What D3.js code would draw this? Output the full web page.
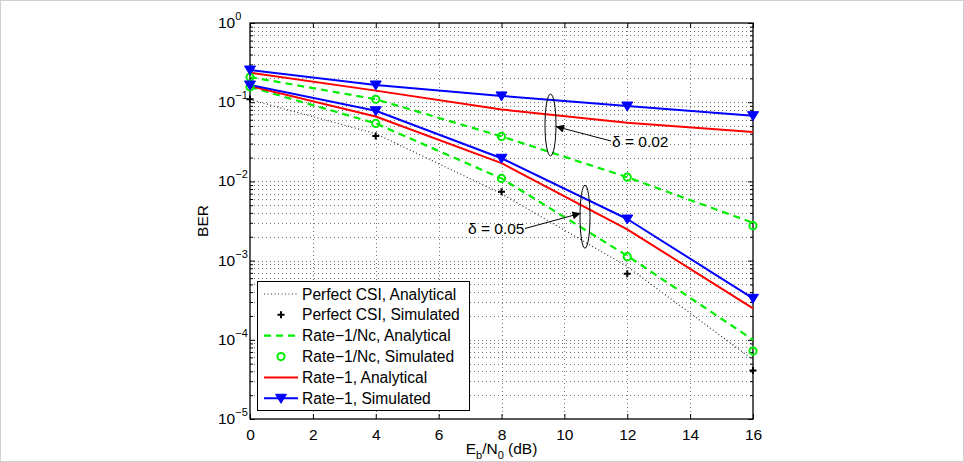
<!DOCTYPE html>
<html><head><meta charset="utf-8">
<script src="https://cdn.jsdelivr.net/npm/d3@7"></script>
<style>
html,body{margin:0;padding:0;background:#fff;}
svg{display:block;font-family:"Liberation Sans",Arial,Helvetica,sans-serif;}
</style></head>
<body><svg id="chart" width="964" height="462"></svg>
<script>
// ---- data ----
const snr = [0, 4, 8, 12, 16];
const perfectAnalytical = [0.108, 0.040, 0.0070, 0.00084, 0.000056];
const perfectSimulated  = [0.109, 0.0374, 0.0074, 0.00068, 0.000041];
const ncAnalytical002   = [0.208, 0.109, 0.037, 0.0113, 0.0030];
const ncSimulated002    = [0.208, 0.109, 0.037, 0.0113, 0.00276];
const ncAnalytical005   = [0.156, 0.054, 0.0109, 0.00115, 0.000100];
const ncSimulated005    = [0.156, 0.054, 0.0109, 0.00112, 0.000072];
const r1Analytical002   = [0.236, 0.140, 0.081, 0.055, 0.042];
const r1Simulated002    = [0.255, 0.165, 0.120, 0.0895, 0.0676];
const r1Analytical005   = [0.160, 0.066, 0.017, 0.00248, 0.00025];
const r1Simulated005    = [0.165, 0.078, 0.0196, 0.00335, 0.000334];
const xTicks = [0, 2, 4, 6, 8, 10, 12, 14, 16];
const yTickExps = [0, -1, -2, -3, -4, -5];
const legendLabels = ["Perfect CSI, Analytical", "Perfect CSI, Simulated", "Rate\u22121/Nc, Analytical",
  "Rate\u22121/Nc, Simulated", "Rate\u22121, Analytical", "Rate\u22121, Simulated"];

// ---- setup ----
const svg = d3.select("#chart");
const L = 250, R = 753, T = 23, B = 419;
const x = d3.scaleLinear().domain([0, 16]).range([L, R]);
const y = d3.scaleLog().domain([1e-5, 1]).range([B, T]);
const GREEN = "#00ee00", RED = "#ff0000", BLUE = "#0000ff";

svg.append("rect").attr("x",0.5).attr("y",0.5).attr("width",963).attr("height",461)
  .attr("fill","#fff").attr("stroke","#d0d0d0");

// grid
const minorY = [];
for (let e = -5; e < 0; e++) for (let m = 1; m < 10; m++) minorY.push(m * Math.pow(10, e));
const grid = svg.append("g").attr("stroke","#555").attr("stroke-width",0.8).attr("stroke-dasharray","1,3");
grid.selectAll("line.gy").data(minorY.filter(v => v > 1e-5)).join("line")
  .attr("x1",L).attr("x2",R).attr("y1",d=>Math.round(y(d))+0.5).attr("y2",d=>Math.round(y(d))+0.5);
grid.selectAll("line.gx").data(xTicks.slice(1,-1)).join("line")
  .attr("y1",T).attr("y2",B).attr("x1",d=>Math.round(x(d))+0.5).attr("x2",d=>Math.round(x(d))+0.5);

// axes (ticks inside)
const axB = svg.append("g").attr("transform",`translate(0,${B})`)
  .call(d3.axisBottom(x).tickValues(xTicks).tickSizeInner(-5).tickSizeOuter(0).tickPadding(10).tickFormat(d3.format("d")));
const axT = svg.append("g").attr("transform",`translate(0,${T})`)
  .call(d3.axisTop(x).tickValues(xTicks).tickSizeInner(-5).tickSizeOuter(0).tickFormat(""));
const majorY = yTickExps.map(e => Math.pow(10, e));
const axL = svg.append("g").attr("transform",`translate(${L},0)`)
  .call(d3.axisLeft(y).tickValues(majorY).tickSizeInner(-5).tickSizeOuter(0).tickFormat(""));
const axR = svg.append("g").attr("transform",`translate(${R},0)`)
  .call(d3.axisRight(y).tickValues(majorY).tickSizeInner(-5).tickSizeOuter(0).tickFormat(""));
svg.append("g").attr("transform",`translate(${L},0)`)
  .call(d3.axisLeft(y).tickValues(minorY.filter(v=>!majorY.includes(v))).tickSizeInner(-3).tickSizeOuter(0).tickFormat(""));
svg.append("g").attr("transform",`translate(${R},0)`)
  .call(d3.axisRight(y).tickValues(minorY.filter(v=>!majorY.includes(v))).tickSizeInner(-3).tickSizeOuter(0).tickFormat(""));
svg.selectAll(".domain").remove();
svg.selectAll(".tick line").attr("stroke","#000");
axB.selectAll("text").attr("font-size",15.5).attr("fill","#000").attr("font-family","Liberation Sans, Arial");
svg.append("rect").attr("x",L).attr("y",T).attr("width",R-L).attr("height",B-T)
  .attr("fill","none").attr("stroke","#000").attr("stroke-width",1.3);

// y tick labels 10^k
const yl = svg.append("g");
yTickExps.forEach(e => {
  const t = yl.append("text").attr("x", 218).attr("y", y(Math.pow(10,e)) + 5)
    .attr("font-size",15.5).attr("fill","#000").attr("text-anchor","start");
  t.append("tspan").text("10");
  t.append("tspan").attr("dy",-8).attr("font-size",11).text(e === 0 ? "0" : "\u2212" + (-e));
});
// axis titles
svg.append("text").attr("transform",`translate(208,${(T+B)/2}) rotate(-90)`).attr("text-anchor","middle")
  .attr("font-size",15.5).text("BER");
const xl = svg.append("text").attr("x",(L+R)/2).attr("y",454).attr("text-anchor","middle").attr("font-size",15.5);
xl.append("tspan").text("E");
xl.append("tspan").attr("dy",5).attr("font-size",11).text("b");
xl.append("tspan").attr("dy",-5).text("/N");
xl.append("tspan").attr("dy",5).attr("font-size",11).text("0");
xl.append("tspan").attr("dy",-5).text(" (dB)");

// series lines
const line = d3.line().x((d,i)=>x(snr[i])).y(d=>y(d));
const plot = svg.append("g");
function drawLine(data, color, dash, width) {
  plot.append("path").datum(data).attr("d", line).attr("fill","none").attr("stroke",color)
    .attr("stroke-width",width).attr("stroke-dasharray",dash).attr("stroke-linejoin","round");
}
drawLine(perfectAnalytical, "#333", "1,2.5", 1.2);
drawLine(ncAnalytical002, GREEN, "7,5", 2.2);
drawLine(ncAnalytical005, GREEN, "7,5", 2.2);
drawLine(r1Analytical002, RED, null, 2);
drawLine(r1Analytical005, RED, null, 2);
drawLine(r1Simulated002, BLUE, null, 2);
drawLine(r1Simulated005, BLUE, null, 2);

// markers
function cross(g, cx, cy) {
  g.append("path").attr("d",`M${cx-3.5},${cy}H${cx+3.5}M${cx},${cy-3.5}V${cy+3.5}`)
    .attr("stroke","#000").attr("stroke-width",2);
}
function circ(g, cx, cy) {
  g.append("circle").attr("cx",cx).attr("cy",cy).attr("r",3.6).attr("fill","none")
    .attr("stroke",GREEN).attr("stroke-width",2);
}
function tri(g, cx, cy) {
  g.append("path").attr("d",`M${cx-5.5},${cy-4}L${cx+5.5},${cy-4}L${cx},${cy+5}Z`)
    .attr("fill",BLUE).attr("stroke",BLUE).attr("stroke-width",1);
}
const mk = svg.append("g");
perfectSimulated.forEach((v,i)=>cross(mk, x(snr[i]), y(v)));
ncSimulated002.forEach((v,i)=>circ(mk, x(snr[i]), y(v)));
ncSimulated005.forEach((v,i)=>circ(mk, x(snr[i]), y(v)));
r1Simulated002.forEach((v,i)=>tri(mk, x(snr[i]), y(v)));
r1Simulated005.forEach((v,i)=>tri(mk, x(snr[i]), y(v)));

// annotations
const defs = svg.append("defs");
defs.append("marker").attr("id","ah").attr("viewBox","0 0 10 10").attr("refX",10).attr("refY",5)
  .attr("markerWidth",10).attr("markerHeight",8).attr("markerUnits","userSpaceOnUse").attr("orient","auto")
  .append("path").attr("d","M0,0L10,5L0,10Z").attr("fill","#000");
const ann = svg.append("g");
ann.append("ellipse").attr("cx",550.5).attr("cy",125).attr("rx",5.5).attr("ry",31)
  .attr("fill","none").attr("stroke","#000").attr("stroke-width",1);
ann.append("line").attr("x1",611).attr("y1",141).attr("x2",556).attr("y2",126.5)
  .attr("stroke","#000").attr("stroke-width",1).attr("marker-end","url(#ah)");
ann.append("text").attr("x",612).attr("y",147).attr("font-size",15.5).text("\u03b4 = 0.02");
ann.append("ellipse").attr("cx",585).attr("cy",216.7).attr("rx",5).attr("ry",31.5)
  .attr("fill","none").attr("stroke","#000").attr("stroke-width",1);
ann.append("line").attr("x1",525).attr("y1",228.5).attr("x2",580.5).attr("y2",213.3)
  .attr("stroke","#000").attr("stroke-width",1).attr("marker-end","url(#ah)");
ann.append("text").attr("x",468).attr("y",234).attr("font-size",15.5).text("\u03b4 = 0.05");

// legend
const lg = svg.append("g");
lg.append("rect").attr("x",257.5).attr("y",281.5).attr("width",212).attr("height",129)
  .attr("fill","#fff").attr("stroke","#000").attr("stroke-width",1);
const ly0 = 294, ldy = 20.85, lx1 = 264, lx2 = 298, lxm = 281;
legendLabels.forEach((lab,i) => {
  const yy = ly0 + i*ldy;
  lg.append("text").attr("x",302).attr("y",yy+5.5).attr("font-size",15.6).text(lab);
});
lg.append("line").attr("x1",lx1).attr("x2",lx2).attr("y1",ly0).attr("y2",ly0)
  .attr("stroke","#333").attr("stroke-width",1.2).attr("stroke-dasharray","1,2.5");
cross(lg, lxm, ly0 + ldy);
lg.append("line").attr("x1",lx1).attr("x2",lx2).attr("y1",ly0+2*ldy).attr("y2",ly0+2*ldy)
  .attr("stroke",GREEN).attr("stroke-width",2.2).attr("stroke-dasharray","7,5");
circ(lg, lxm, ly0 + 3*ldy);
lg.append("line").attr("x1",lx1).attr("x2",lx2).attr("y1",ly0+4*ldy).attr("y2",ly0+4*ldy)
  .attr("stroke",RED).attr("stroke-width",2);
lg.append("line").attr("x1",lx1).attr("x2",lx2).attr("y1",ly0+5*ldy).attr("y2",ly0+5*ldy)
  .attr("stroke",BLUE).attr("stroke-width",2);
tri(lg, lxm, ly0 + 5*ldy);
</script></body></html>
